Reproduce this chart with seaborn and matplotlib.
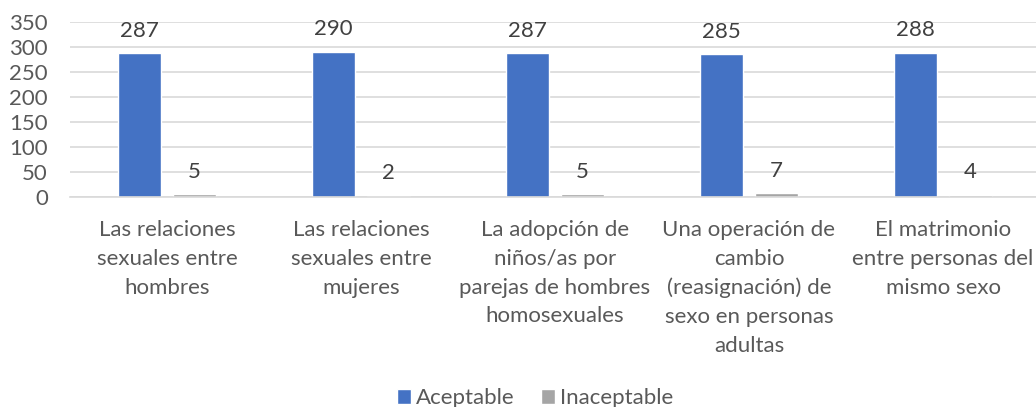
import pandas as pd
import seaborn as sns
import matplotlib.pyplot as plt

# datos
categorias = [
    'Las relaciones\nsexuales entre\nhombres',
    'Las relaciones\nsexuales entre\nmujeres',
    'La adopción de\nniños/as por\nparejas de hombres\nhomosexuales',
    'Una operación de\ncambio\n(reasignación) de\nsexo en personas\nadultas',
    'El matrimonio\nentre personas del\nmismo sexo',
]
aceptable = [287, 290, 287, 285, 288]
inaceptable = [5, 2, 5, 7, 4]
series = ['Aceptable', 'Inaceptable']
y_ticks = [0, 50, 100, 150, 200, 250, 300, 350]

df = pd.DataFrame({
    'categoria': categorias * 2,
    'serie': [series[0]] * len(categorias) + [series[1]] * len(categorias),
    'valor': aceptable + inaceptable,
})

sns.set_theme(style='white')
plt.rcParams['font.family'] = ['Lato', 'DejaVu Sans']
fs = 16

fig = plt.figure(figsize=(10.36, 4.07), dpi=100)
ax = fig.add_axes([70 / 1036, 210 / 407, 970 / 1036, 175 / 407])

sns.barplot(data=df, x='categoria', y='valor', hue='serie',
            palette=['#4472C4', '#A5A5A5'], width=0.567, gap=0.217,
            ax=ax, saturation=1)

# etiquetas de datos
for cont in ax.containers:
    ax.bar_label(cont, padding=9, fontsize=fs, color='#404040')

ax.set_ylim(0, 350)
ax.set_yticks(y_ticks)
ax.set_xlabel('')
ax.set_ylabel('')
ax.yaxis.grid(True, color='#D9D9D9', linewidth=1.2)
ax.set_axisbelow(True)
sns.despine(ax=ax, left=True, right=True, top=True)
ax.spines['bottom'].set_color('#D9D9D9')
ax.spines['bottom'].set_linewidth(1.2)
ax.tick_params(axis='y', length=0, pad=16, labelsize=fs, labelcolor='#595959')
ax.tick_params(axis='x', length=0, pad=16.5, labelsize=fs, labelcolor='#595959')
for t in ax.get_xticklabels():
    t.set_linespacing(1.55)

handles, labels = ax.get_legend_handles_labels()
ax.get_legend().remove()
fig.legend(handles, labels, loc='center', bbox_to_anchor=(535 / 1036, 1 - 398 / 407),
           ncol=2, frameon=False, fontsize=fs, labelcolor='#595959',
           handlelength=0.65, handleheight=0.65, handletextpad=0.2, columnspacing=1.2)

fig.savefig('out.png', dpi=100)
